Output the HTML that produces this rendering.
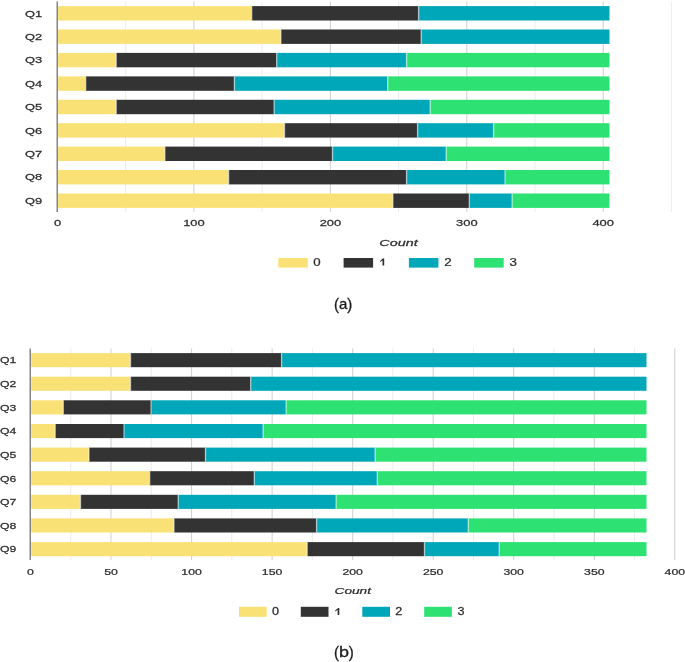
<!DOCTYPE html>
<html><head><meta charset="utf-8"><title>charts</title>
<style>
html,body{margin:0;padding:0;background:#fff;}
body{width:685px;height:662px;overflow:hidden;position:relative;font-family:"Liberation Sans",sans-serif;}
svg{position:absolute;left:0;top:0;}
svg text{font-family:"Liberation Sans",sans-serif;}
.cap{position:absolute;font-size:15px;color:#1a1a1a;line-height:1;white-space:nowrap;}
</style></head><body>
<svg width="685" height="662" viewBox="0 0 685 662">
<g style="filter:blur(0.45px)">
<line x1="125.7" y1="1.5" x2="125.7" y2="212" stroke="#ececec" stroke-width="1"/>
<line x1="193.9" y1="1.5" x2="193.9" y2="212" stroke="#cfcfcf" stroke-width="1"/>
<line x1="262.1" y1="1.5" x2="262.1" y2="212" stroke="#ececec" stroke-width="1"/>
<line x1="330.4" y1="1.5" x2="330.4" y2="212" stroke="#cfcfcf" stroke-width="1"/>
<line x1="398.6" y1="1.5" x2="398.6" y2="212" stroke="#ececec" stroke-width="1"/>
<line x1="466.8" y1="1.5" x2="466.8" y2="212" stroke="#cfcfcf" stroke-width="1"/>
<line x1="535.0" y1="1.5" x2="535.0" y2="212" stroke="#ececec" stroke-width="1"/>
<line x1="603.2" y1="1.5" x2="603.2" y2="212" stroke="#cfcfcf" stroke-width="1"/>
<line x1="671.4" y1="1.5" x2="671.4" y2="212" stroke="#ececec" stroke-width="1"/>
<rect x="58.1" y="6.1" width="193.6" height="14.4" fill="#FAE176"/>
<rect x="251.7" y="6.1" width="166.9" height="14.4" fill="#333333"/>
<rect x="418.6" y="6.1" width="190.9" height="14.4" fill="#00A7B9"/>
<rect x="251.0" y="6.1" width="1.4" height="14.4" fill="#ffffff" fill-opacity="0.5"/>
<rect x="417.9" y="6.1" width="1.4" height="14.4" fill="#ffffff" fill-opacity="0.5"/>
<text transform="translate(42.2,16.5) scale(1.43,1)" font-size="9" text-anchor="end" fill="#2e2e2e" stroke="#2e2e2e" stroke-width="0.25">Q1</text>
<rect x="58.1" y="29.5" width="222.8" height="14.4" fill="#FAE176"/>
<rect x="280.9" y="29.5" width="140.3" height="14.4" fill="#333333"/>
<rect x="421.2" y="29.5" width="188.3" height="14.4" fill="#00A7B9"/>
<rect x="280.2" y="29.5" width="1.4" height="14.4" fill="#ffffff" fill-opacity="0.5"/>
<rect x="420.5" y="29.5" width="1.4" height="14.4" fill="#ffffff" fill-opacity="0.5"/>
<text transform="translate(42.2,39.9) scale(1.43,1)" font-size="9" text-anchor="end" fill="#2e2e2e" stroke="#2e2e2e" stroke-width="0.25">Q2</text>
<rect x="58.1" y="52.9" width="58.1" height="14.4" fill="#FAE176"/>
<rect x="116.2" y="52.9" width="160.5" height="14.4" fill="#333333"/>
<rect x="276.7" y="52.9" width="129.9" height="14.4" fill="#00A7B9"/>
<rect x="406.6" y="52.9" width="202.9" height="14.4" fill="#2DE272"/>
<rect x="115.5" y="52.9" width="1.4" height="14.4" fill="#ffffff" fill-opacity="0.5"/>
<rect x="276.0" y="52.9" width="1.4" height="14.4" fill="#ffffff" fill-opacity="0.5"/>
<rect x="405.9" y="52.9" width="1.4" height="14.4" fill="#ffffff" fill-opacity="0.5"/>
<text transform="translate(42.2,63.3) scale(1.43,1)" font-size="9" text-anchor="end" fill="#2e2e2e" stroke="#2e2e2e" stroke-width="0.25">Q3</text>
<rect x="58.1" y="76.4" width="27.6" height="14.4" fill="#FAE176"/>
<rect x="85.7" y="76.4" width="148.7" height="14.4" fill="#333333"/>
<rect x="234.4" y="76.4" width="153.3" height="14.4" fill="#00A7B9"/>
<rect x="387.7" y="76.4" width="221.8" height="14.4" fill="#2DE272"/>
<rect x="85.0" y="76.4" width="1.4" height="14.4" fill="#ffffff" fill-opacity="0.5"/>
<rect x="233.7" y="76.4" width="1.4" height="14.4" fill="#ffffff" fill-opacity="0.5"/>
<rect x="387.0" y="76.4" width="1.4" height="14.4" fill="#ffffff" fill-opacity="0.5"/>
<text transform="translate(42.2,86.8) scale(1.43,1)" font-size="9" text-anchor="end" fill="#2e2e2e" stroke="#2e2e2e" stroke-width="0.25">Q4</text>
<rect x="58.1" y="99.8" width="58.1" height="14.4" fill="#FAE176"/>
<rect x="116.2" y="99.8" width="157.9" height="14.4" fill="#333333"/>
<rect x="274.1" y="99.8" width="156.1" height="14.4" fill="#00A7B9"/>
<rect x="430.2" y="99.8" width="179.3" height="14.4" fill="#2DE272"/>
<rect x="115.5" y="99.8" width="1.4" height="14.4" fill="#ffffff" fill-opacity="0.5"/>
<rect x="273.4" y="99.8" width="1.4" height="14.4" fill="#ffffff" fill-opacity="0.5"/>
<rect x="429.5" y="99.8" width="1.4" height="14.4" fill="#ffffff" fill-opacity="0.5"/>
<text transform="translate(42.2,110.2) scale(1.43,1)" font-size="9" text-anchor="end" fill="#2e2e2e" stroke="#2e2e2e" stroke-width="0.25">Q5</text>
<rect x="58.1" y="123.2" width="226.4" height="14.4" fill="#FAE176"/>
<rect x="284.5" y="123.2" width="133.1" height="14.4" fill="#333333"/>
<rect x="417.6" y="123.2" width="76.0" height="14.4" fill="#00A7B9"/>
<rect x="493.6" y="123.2" width="115.9" height="14.4" fill="#2DE272"/>
<rect x="283.8" y="123.2" width="1.4" height="14.4" fill="#ffffff" fill-opacity="0.5"/>
<rect x="416.9" y="123.2" width="1.4" height="14.4" fill="#ffffff" fill-opacity="0.5"/>
<rect x="492.9" y="123.2" width="1.4" height="14.4" fill="#ffffff" fill-opacity="0.5"/>
<text transform="translate(42.2,133.6) scale(1.43,1)" font-size="9" text-anchor="end" fill="#2e2e2e" stroke="#2e2e2e" stroke-width="0.25">Q6</text>
<rect x="58.1" y="146.6" width="106.8" height="14.4" fill="#FAE176"/>
<rect x="164.9" y="146.6" width="167.6" height="14.4" fill="#333333"/>
<rect x="332.5" y="146.6" width="113.7" height="14.4" fill="#00A7B9"/>
<rect x="446.2" y="146.6" width="163.3" height="14.4" fill="#2DE272"/>
<rect x="164.2" y="146.6" width="1.4" height="14.4" fill="#ffffff" fill-opacity="0.5"/>
<rect x="331.8" y="146.6" width="1.4" height="14.4" fill="#ffffff" fill-opacity="0.5"/>
<rect x="445.5" y="146.6" width="1.4" height="14.4" fill="#ffffff" fill-opacity="0.5"/>
<text transform="translate(42.2,157.0) scale(1.43,1)" font-size="9" text-anchor="end" fill="#2e2e2e" stroke="#2e2e2e" stroke-width="0.25">Q7</text>
<rect x="58.1" y="170.0" width="170.5" height="14.4" fill="#FAE176"/>
<rect x="228.6" y="170.0" width="178.0" height="14.4" fill="#333333"/>
<rect x="406.6" y="170.0" width="98.4" height="14.4" fill="#00A7B9"/>
<rect x="505.0" y="170.0" width="104.5" height="14.4" fill="#2DE272"/>
<rect x="227.9" y="170.0" width="1.4" height="14.4" fill="#ffffff" fill-opacity="0.5"/>
<rect x="405.9" y="170.0" width="1.4" height="14.4" fill="#ffffff" fill-opacity="0.5"/>
<rect x="504.3" y="170.0" width="1.4" height="14.4" fill="#ffffff" fill-opacity="0.5"/>
<text transform="translate(42.2,180.4) scale(1.43,1)" font-size="9" text-anchor="end" fill="#2e2e2e" stroke="#2e2e2e" stroke-width="0.25">Q8</text>
<rect x="58.1" y="193.5" width="334.8" height="14.4" fill="#FAE176"/>
<rect x="392.9" y="193.5" width="76.4" height="14.4" fill="#333333"/>
<rect x="469.3" y="193.5" width="42.8" height="14.4" fill="#00A7B9"/>
<rect x="512.1" y="193.5" width="97.4" height="14.4" fill="#2DE272"/>
<rect x="392.2" y="193.5" width="1.4" height="14.4" fill="#ffffff" fill-opacity="0.5"/>
<rect x="468.6" y="193.5" width="1.4" height="14.4" fill="#ffffff" fill-opacity="0.5"/>
<rect x="511.4" y="193.5" width="1.4" height="14.4" fill="#ffffff" fill-opacity="0.5"/>
<text transform="translate(42.2,203.9) scale(1.43,1)" font-size="9" text-anchor="end" fill="#2e2e2e" stroke="#2e2e2e" stroke-width="0.25">Q9</text>
<line x1="57.2" y1="1.5" x2="57.2" y2="212" stroke="#666" stroke-width="1.2"/>
<text transform="translate(57.5,226.0) scale(1.36,1)" font-size="9.5" text-anchor="middle" fill="#2e2e2e" stroke="#2e2e2e" stroke-width="0.25">0</text>
<text transform="translate(193.9,226.0) scale(1.36,1)" font-size="9.5" text-anchor="middle" fill="#2e2e2e" stroke="#2e2e2e" stroke-width="0.25">100</text>
<text transform="translate(330.4,226.0) scale(1.36,1)" font-size="9.5" text-anchor="middle" fill="#2e2e2e" stroke="#2e2e2e" stroke-width="0.25">200</text>
<text transform="translate(466.8,226.0) scale(1.36,1)" font-size="9.5" text-anchor="middle" fill="#2e2e2e" stroke="#2e2e2e" stroke-width="0.25">300</text>
<text transform="translate(603.2,226.0) scale(1.36,1)" font-size="9.5" text-anchor="middle" fill="#2e2e2e" stroke="#2e2e2e" stroke-width="0.25">400</text>
<text transform="translate(398.5,246.2) scale(1.56,1)" font-size="9.2" text-anchor="middle" font-style="italic" fill="#2e2e2e" stroke="#2e2e2e" stroke-width="0.25">Count</text>
<rect x="278.3" y="258" width="29.5" height="9.6" fill="#FAE176"/>
<text transform="translate(313.2,265.6) scale(1.33,1)" font-size="10" text-anchor="start" fill="#2e2e2e" stroke="#2e2e2e" stroke-width="0.25">0</text>
<rect x="343.6" y="258" width="29.5" height="9.6" fill="#333333"/>
<path d="M382.5,258.5 h1.7 v7.1 h-1.7 Z M380.1,261.0 L382.8,258.5 L383.1,260.0 L380.1,262.0 Z" fill="#2e2e2e"/>
<rect x="408.9" y="258" width="29.5" height="9.6" fill="#00A7B9"/>
<text transform="translate(444.2,265.6) scale(1.33,1)" font-size="10" text-anchor="start" fill="#2e2e2e" stroke="#2e2e2e" stroke-width="0.25">2</text>
<rect x="474.2" y="258" width="29.5" height="9.6" fill="#2DE272"/>
<text transform="translate(509.4,265.6) scale(1.33,1)" font-size="10" text-anchor="start" fill="#2e2e2e" stroke="#2e2e2e" stroke-width="0.25">3</text>
<line x1="70.8" y1="348.5" x2="70.8" y2="560" stroke="#ececec" stroke-width="1"/>
<line x1="111.0" y1="348.5" x2="111.0" y2="560" stroke="#cfcfcf" stroke-width="1"/>
<line x1="151.3" y1="348.5" x2="151.3" y2="560" stroke="#ececec" stroke-width="1"/>
<line x1="191.6" y1="348.5" x2="191.6" y2="560" stroke="#cfcfcf" stroke-width="1"/>
<line x1="231.8" y1="348.5" x2="231.8" y2="560" stroke="#ececec" stroke-width="1"/>
<line x1="272.1" y1="348.5" x2="272.1" y2="560" stroke="#cfcfcf" stroke-width="1"/>
<line x1="312.4" y1="348.5" x2="312.4" y2="560" stroke="#ececec" stroke-width="1"/>
<line x1="352.7" y1="348.5" x2="352.7" y2="560" stroke="#cfcfcf" stroke-width="1"/>
<line x1="392.9" y1="348.5" x2="392.9" y2="560" stroke="#ececec" stroke-width="1"/>
<line x1="433.2" y1="348.5" x2="433.2" y2="560" stroke="#cfcfcf" stroke-width="1"/>
<line x1="473.5" y1="348.5" x2="473.5" y2="560" stroke="#ececec" stroke-width="1"/>
<line x1="513.7" y1="348.5" x2="513.7" y2="560" stroke="#cfcfcf" stroke-width="1"/>
<line x1="554.0" y1="348.5" x2="554.0" y2="560" stroke="#ececec" stroke-width="1"/>
<line x1="594.3" y1="348.5" x2="594.3" y2="560" stroke="#cfcfcf" stroke-width="1"/>
<line x1="634.5" y1="348.5" x2="634.5" y2="560" stroke="#ececec" stroke-width="1"/>
<line x1="674.8" y1="348.5" x2="674.8" y2="560" stroke="#cfcfcf" stroke-width="1"/>
<rect x="31.1" y="353.1" width="99.4" height="14.1" fill="#FAE176"/>
<rect x="130.5" y="353.1" width="151.1" height="14.1" fill="#333333"/>
<rect x="281.6" y="353.1" width="364.9" height="14.1" fill="#00A7B9"/>
<rect x="129.8" y="353.1" width="1.4" height="14.1" fill="#ffffff" fill-opacity="0.5"/>
<rect x="280.9" y="353.1" width="1.4" height="14.1" fill="#ffffff" fill-opacity="0.5"/>
<text transform="translate(16.3,363.4) scale(1.3006914893617019,1)" font-size="9.4" text-anchor="end" fill="#2e2e2e" stroke="#2e2e2e" stroke-width="0.25">Q1</text>
<rect x="31.1" y="376.7" width="99.4" height="14.1" fill="#FAE176"/>
<rect x="130.5" y="376.7" width="120.2" height="14.1" fill="#333333"/>
<rect x="250.7" y="376.7" width="395.8" height="14.1" fill="#00A7B9"/>
<rect x="129.8" y="376.7" width="1.4" height="14.1" fill="#ffffff" fill-opacity="0.5"/>
<rect x="250.0" y="376.7" width="1.4" height="14.1" fill="#ffffff" fill-opacity="0.5"/>
<text transform="translate(16.3,387.0) scale(1.3006914893617019,1)" font-size="9.4" text-anchor="end" fill="#2e2e2e" stroke="#2e2e2e" stroke-width="0.25">Q2</text>
<rect x="31.1" y="400.3" width="32.2" height="14.1" fill="#FAE176"/>
<rect x="63.3" y="400.3" width="87.7" height="14.1" fill="#333333"/>
<rect x="151.0" y="400.3" width="135.1" height="14.1" fill="#00A7B9"/>
<rect x="286.1" y="400.3" width="360.4" height="14.1" fill="#2DE272"/>
<rect x="62.6" y="400.3" width="1.4" height="14.1" fill="#ffffff" fill-opacity="0.5"/>
<rect x="150.3" y="400.3" width="1.4" height="14.1" fill="#ffffff" fill-opacity="0.5"/>
<rect x="285.4" y="400.3" width="1.4" height="14.1" fill="#ffffff" fill-opacity="0.5"/>
<text transform="translate(16.3,410.6) scale(1.3006914893617019,1)" font-size="9.4" text-anchor="end" fill="#2e2e2e" stroke="#2e2e2e" stroke-width="0.25">Q3</text>
<rect x="31.1" y="424.0" width="24.1" height="14.1" fill="#FAE176"/>
<rect x="55.2" y="424.0" width="68.8" height="14.1" fill="#333333"/>
<rect x="124.0" y="424.0" width="139.1" height="14.1" fill="#00A7B9"/>
<rect x="263.1" y="424.0" width="383.4" height="14.1" fill="#2DE272"/>
<rect x="54.5" y="424.0" width="1.4" height="14.1" fill="#ffffff" fill-opacity="0.5"/>
<rect x="123.3" y="424.0" width="1.4" height="14.1" fill="#ffffff" fill-opacity="0.5"/>
<rect x="262.4" y="424.0" width="1.4" height="14.1" fill="#ffffff" fill-opacity="0.5"/>
<text transform="translate(16.3,434.2) scale(1.3006914893617019,1)" font-size="9.4" text-anchor="end" fill="#2e2e2e" stroke="#2e2e2e" stroke-width="0.25">Q4</text>
<rect x="31.1" y="447.6" width="57.9" height="14.1" fill="#FAE176"/>
<rect x="89.0" y="447.6" width="116.5" height="14.1" fill="#333333"/>
<rect x="205.5" y="447.6" width="169.6" height="14.1" fill="#00A7B9"/>
<rect x="375.1" y="447.6" width="271.4" height="14.1" fill="#2DE272"/>
<rect x="88.3" y="447.6" width="1.4" height="14.1" fill="#ffffff" fill-opacity="0.5"/>
<rect x="204.8" y="447.6" width="1.4" height="14.1" fill="#ffffff" fill-opacity="0.5"/>
<rect x="374.4" y="447.6" width="1.4" height="14.1" fill="#ffffff" fill-opacity="0.5"/>
<text transform="translate(16.3,457.8) scale(1.3006914893617019,1)" font-size="9.4" text-anchor="end" fill="#2e2e2e" stroke="#2e2e2e" stroke-width="0.25">Q5</text>
<rect x="31.1" y="471.2" width="118.6" height="14.1" fill="#FAE176"/>
<rect x="149.7" y="471.2" width="104.6" height="14.1" fill="#333333"/>
<rect x="254.3" y="471.2" width="123.0" height="14.1" fill="#00A7B9"/>
<rect x="377.3" y="471.2" width="269.2" height="14.1" fill="#2DE272"/>
<rect x="149.0" y="471.2" width="1.4" height="14.1" fill="#ffffff" fill-opacity="0.5"/>
<rect x="253.6" y="471.2" width="1.4" height="14.1" fill="#ffffff" fill-opacity="0.5"/>
<rect x="376.6" y="471.2" width="1.4" height="14.1" fill="#ffffff" fill-opacity="0.5"/>
<text transform="translate(16.3,481.5) scale(1.3006914893617019,1)" font-size="9.4" text-anchor="end" fill="#2e2e2e" stroke="#2e2e2e" stroke-width="0.25">Q6</text>
<rect x="31.1" y="494.8" width="49.4" height="14.1" fill="#FAE176"/>
<rect x="80.5" y="494.8" width="97.7" height="14.1" fill="#333333"/>
<rect x="178.2" y="494.8" width="157.9" height="14.1" fill="#00A7B9"/>
<rect x="336.1" y="494.8" width="310.4" height="14.1" fill="#2DE272"/>
<rect x="79.8" y="494.8" width="1.4" height="14.1" fill="#ffffff" fill-opacity="0.5"/>
<rect x="177.5" y="494.8" width="1.4" height="14.1" fill="#ffffff" fill-opacity="0.5"/>
<rect x="335.4" y="494.8" width="1.4" height="14.1" fill="#ffffff" fill-opacity="0.5"/>
<text transform="translate(16.3,505.1) scale(1.3006914893617019,1)" font-size="9.4" text-anchor="end" fill="#2e2e2e" stroke="#2e2e2e" stroke-width="0.25">Q7</text>
<rect x="31.1" y="518.4" width="142.9" height="14.1" fill="#FAE176"/>
<rect x="174.0" y="518.4" width="142.6" height="14.1" fill="#333333"/>
<rect x="316.6" y="518.4" width="151.7" height="14.1" fill="#00A7B9"/>
<rect x="468.3" y="518.4" width="178.2" height="14.1" fill="#2DE272"/>
<rect x="173.3" y="518.4" width="1.4" height="14.1" fill="#ffffff" fill-opacity="0.5"/>
<rect x="315.9" y="518.4" width="1.4" height="14.1" fill="#ffffff" fill-opacity="0.5"/>
<rect x="467.6" y="518.4" width="1.4" height="14.1" fill="#ffffff" fill-opacity="0.5"/>
<text transform="translate(16.3,528.7) scale(1.3006914893617019,1)" font-size="9.4" text-anchor="end" fill="#2e2e2e" stroke="#2e2e2e" stroke-width="0.25">Q8</text>
<rect x="31.1" y="542.1" width="276.1" height="14.1" fill="#FAE176"/>
<rect x="307.2" y="542.1" width="117.3" height="14.1" fill="#333333"/>
<rect x="424.5" y="542.1" width="74.7" height="14.1" fill="#00A7B9"/>
<rect x="499.2" y="542.1" width="147.3" height="14.1" fill="#2DE272"/>
<rect x="306.5" y="542.1" width="1.4" height="14.1" fill="#ffffff" fill-opacity="0.5"/>
<rect x="423.8" y="542.1" width="1.4" height="14.1" fill="#ffffff" fill-opacity="0.5"/>
<rect x="498.5" y="542.1" width="1.4" height="14.1" fill="#ffffff" fill-opacity="0.5"/>
<text transform="translate(16.3,552.3) scale(1.3006914893617019,1)" font-size="9.4" text-anchor="end" fill="#2e2e2e" stroke="#2e2e2e" stroke-width="0.25">Q9</text>
<line x1="30.2" y1="348.5" x2="30.2" y2="560" stroke="#666" stroke-width="1.2"/>
<text transform="translate(30.5,575.3) scale(1.292,1)" font-size="9.5" text-anchor="middle" fill="#2e2e2e" stroke="#2e2e2e" stroke-width="0.25">0</text>
<text transform="translate(111.0,575.3) scale(1.292,1)" font-size="9.5" text-anchor="middle" fill="#2e2e2e" stroke="#2e2e2e" stroke-width="0.25">50</text>
<text transform="translate(191.6,575.3) scale(1.292,1)" font-size="9.5" text-anchor="middle" fill="#2e2e2e" stroke="#2e2e2e" stroke-width="0.25">100</text>
<text transform="translate(272.1,575.3) scale(1.292,1)" font-size="9.5" text-anchor="middle" fill="#2e2e2e" stroke="#2e2e2e" stroke-width="0.25">150</text>
<text transform="translate(352.7,575.3) scale(1.292,1)" font-size="9.5" text-anchor="middle" fill="#2e2e2e" stroke="#2e2e2e" stroke-width="0.25">200</text>
<text transform="translate(433.2,575.3) scale(1.292,1)" font-size="9.5" text-anchor="middle" fill="#2e2e2e" stroke="#2e2e2e" stroke-width="0.25">250</text>
<text transform="translate(513.7,575.3) scale(1.292,1)" font-size="9.5" text-anchor="middle" fill="#2e2e2e" stroke="#2e2e2e" stroke-width="0.25">300</text>
<text transform="translate(594.3,575.3) scale(1.292,1)" font-size="9.5" text-anchor="middle" fill="#2e2e2e" stroke="#2e2e2e" stroke-width="0.25">350</text>
<text transform="translate(674.8,575.3) scale(1.292,1)" font-size="9.5" text-anchor="middle" fill="#2e2e2e" stroke="#2e2e2e" stroke-width="0.25">400</text>
<text transform="translate(352.8,594.4) scale(1.482,1)" font-size="9.2" text-anchor="middle" font-style="italic" fill="#2e2e2e" stroke="#2e2e2e" stroke-width="0.25">Count</text>
<rect x="239" y="606.8" width="27.7" height="10" fill="#FAE176"/>
<text transform="translate(272.0,615.0) scale(1.2635,1)" font-size="10" text-anchor="start" fill="#2e2e2e" stroke="#2e2e2e" stroke-width="0.25">0</text>
<rect x="300.8" y="606.8" width="27.7" height="10" fill="#333333"/>
<path d="M337.6,607.9 h1.7 v7.1 h-1.7 Z M335.2,610.4 L337.9,607.9 L338.2,609.4 L335.2,611.4 Z" fill="#2e2e2e"/>
<rect x="362.3" y="606.8" width="27.7" height="10" fill="#00A7B9"/>
<text transform="translate(395.3,615.0) scale(1.2635,1)" font-size="10" text-anchor="start" fill="#2e2e2e" stroke="#2e2e2e" stroke-width="0.25">2</text>
<rect x="424.2" y="606.8" width="27.7" height="10" fill="#2DE272"/>
<text transform="translate(457.6,615.0) scale(1.2635,1)" font-size="10" text-anchor="start" fill="#2e2e2e" stroke="#2e2e2e" stroke-width="0.25">3</text>
</g>
<g font-size="15" fill="#1a1a1a" stroke="#1a1a1a" stroke-width="0.3" style="filter:blur(0.3px)">
<text transform="translate(334,304.8) scale(1,1.14)" y="4.16">(</text>
<text x="339" y="308.8">a</text>
<text transform="translate(347.3,304.8) scale(1,1.14)" y="4.16">)</text>
<text transform="translate(334,653.4) scale(1,1.14)" y="4.16">(</text>
<text transform="translate(339.0,657.4) scale(1.2,1.02)">b</text>
<text transform="translate(348.8,653.4) scale(1,1.14)" y="4.16">)</text>
</g>
</svg>

</body></html>
